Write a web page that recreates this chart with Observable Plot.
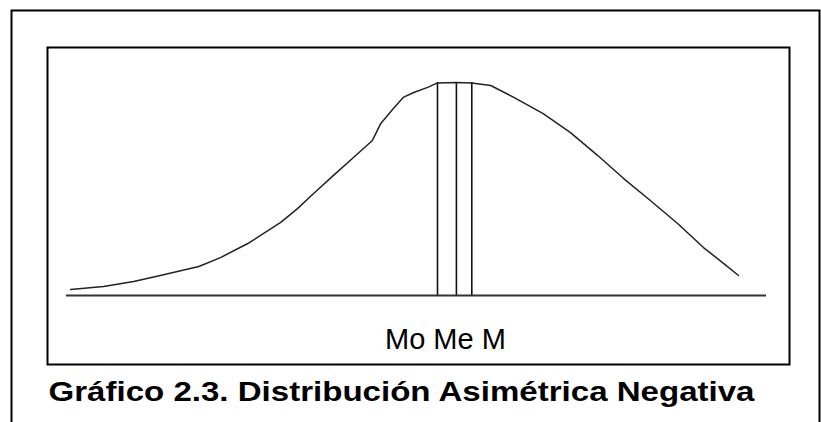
<!DOCTYPE html>
<html>
<head>
<meta charset="utf-8">
<script src="https://cdn.jsdelivr.net/npm/d3@7"></script>
<script src="https://cdn.jsdelivr.net/npm/@observablehq/plot@0.6"></script>
<style>
  html, body { margin: 0; padding: 0; background: #fff; }
  #chart svg { display: block; }
</style>
</head>
<body>
<div id="chart"></div>
<script>
// Curve (x: 0–100 along the baseline, y: 0–100 relative height)
const curveX = [0.6, 5.3, 9.6, 13.4, 18.9, 22.0, 25.9, 30.6, 33.0, 35.3, 38.1, 41.0, 43.7, 44.9, 46.7, 48.1, 49.6, 51.6, 53.0, 55.7, 57.9, 60.6, 63.9, 68.1, 72.0, 75.9, 79.6, 83.4, 87.3, 91.0, 93.9, 96.0];
const curveY = [2.8, 4.2, 6.6, 9.4, 13.6, 17.8, 24.4, 34.3, 40.8, 47.9, 56.3, 64.8, 72.8, 80.8, 87.8, 93.0, 95.3, 97.7, 99.8, 100, 99.8, 98.6, 93.0, 85.4, 76.5, 65.7, 54.9, 44.6, 33.8, 22.5, 15.0, 9.4];
// Mode, median, mean positions
const measureLabels = ["Mo", "Me", "M"];
const measureX = [53.0, 55.7, 57.9];
const peakY = 100;
const axisLabel = "Mo Me M";
const title = "Gráfico 2.3. Distribución Asimétrica Negativa";

const curve = curveX.map((x, i) => ({x, y: curveY[i]}));
const measures = measureLabels.map((name, i) => ({name, x: measureX[i]}));

const font = "'Liberation Sans', Arial, Helvetica, sans-serif";

const plot = Plot.plot({
  width: 821,
  height: 422,
  marginLeft: 47,
  marginRight: 32,
  marginTop: 47,
  marginBottom: 58,
  style: {background: "#fff", fontFamily: font},
  x: {domain: [0, 100], insetLeft: 19, insetRight: 23, axis: null},
  y: {domain: [0, 100], insetTop: 35, insetBottom: 69, axis: null},
  marks: [
    Plot.frame({stroke: "#000", strokeWidth: 2, insetLeft: -36, insetTop: -37, insetRight: -30, insetBottom: -60}),
    Plot.frame({stroke: "#000", strokeWidth: 2}),
    Plot.ruleY([0], {x1: 0, x2: 100, stroke: "#333", strokeWidth: 2}),
    Plot.ruleX(measures, {x: "x", y1: 0, y2: peakY, stroke: "#111", strokeWidth: 1.6}),
    Plot.line(curve, {x: "x", y: "y", stroke: "#222", strokeWidth: 1.5}),
    Plot.text([axisLabel], {x: measureX[1], frameAnchor: "bottom", lineAnchor: "bottom", dy: -16, dx: -11, text: d => d, fontSize: 29, fill: "#000", textAnchor: "middle"}),
    Plot.text([title], {frameAnchor: "bottom-left", lineAnchor: "bottom", textAnchor: "start", dx: 1, dy: 36, text: d => d, fontSize: 28, fontWeight: "bold", fill: "#000", className: "chart-title"})
  ]
});

document.getElementById("chart").appendChild(plot);
const t = plot.querySelector(".chart-title text");
if (t) { t.setAttribute("textLength", 706); t.setAttribute("lengthAdjust", "spacingAndGlyphs"); }
</script>
</body>
</html>
